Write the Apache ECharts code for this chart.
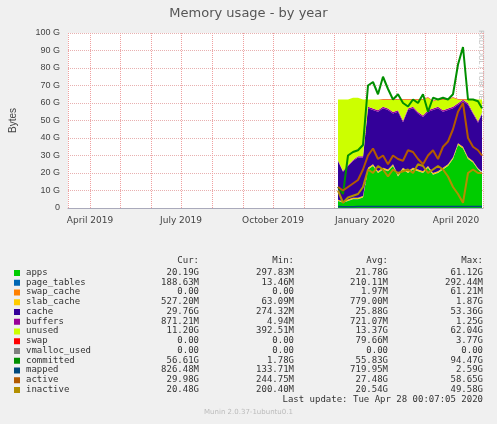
<!DOCTYPE html>
<html><head><meta charset="utf-8">
<script src="https://cdn.jsdelivr.net/npm/echarts@6/dist/echarts.min.js"></script>
<style>body{margin:0;background:#f0f0f0}#c{width:497px;height:424px}</style>
</head><body><div id="c"></div>
<script>
// sample dates (every 5 days) and values in G
var dates = ['2019-12-05','2019-12-10','2019-12-15','2019-12-20','2019-12-25','2019-12-30','2020-01-04','2020-01-09','2020-01-14','2020-01-19','2020-01-24','2020-01-29','2020-02-03','2020-02-08','2020-02-13','2020-02-18','2020-02-23','2020-02-28','2020-03-04','2020-03-09','2020-03-14','2020-03-19','2020-03-24','2020-03-29','2020-04-03','2020-04-08','2020-04-13','2020-04-18','2020-04-23','2020-04-27'];
var apps =      [4,3,4,5,5,6,22,24,20,22,21,24,18,22,20,22,21,20,23,19,20,22,24,28,36,34,28,26,22,20];
var pageTables= [0.2,0.2,0.2,0.2,0.2,0.2,0.2,0.2,0.2,0.2,0.2,0.2,0.2,0.2,0.2,0.2,0.2,0.2,0.2,0.2,0.2,0.2,0.2,0.2,0.2,0.2,0.2,0.2,0.2,0.2];
var slabCache = [0.5,0.5,0.6,0.6,0.7,0.7,0.8,0.8,0.8,0.8,0.8,0.8,0.8,0.8,0.8,0.8,0.8,0.8,0.8,0.8,0.8,0.8,0.8,0.8,0.8,0.8,0.8,0.6,0.5,0.5];
var cache =     [22,17,19,21,23,22,34,31,34,34,34,29,36,26,35,34,32,31,31,36,36,32,31,28,22,26,30,27,26,33];
var buffers =   [0.6,0.5,0.6,0.7,0.7,0.7,0.8,0.8,0.8,0.8,0.8,0.8,0.8,0.8,0.8,0.8,0.8,0.8,0.8,0.8,0.8,0.8,0.8,0.8,0.8,0.8,0.8,0.8,0.9,0.9];
var unused =    [34.7,40.8,37.6,35.5,33.4,32.4,4.2,5.2,6.2,4.2,5.2,7.2,6.2,12.2,5.2,4.2,7.2,9.2,7.2,4.2,4.2,6.2,5.2,5.2,2.2,0.2,2.2,7.4,12.4,7.4];
var swap =      [0,0,0,0,0,0,0,0,0,0.3,0.3,0.3,0.3,0.3,0.3,0.3,0.3,0.3,0.3,0.3,0.3,0.3,0.3,0.3,0.3,0.3,0.3,0,0,0];
var committed = [12,8,30,32,33,36,70,72,65,75,68,62,65,60,58,62,60,65,55,63,62,63,62,65,82,92,62,62,61,57];
var mapped =    [0.8,0.7,0.7,0.7,0.8,0.8,0.8,0.8,0.8,0.8,0.8,0.8,0.8,0.8,0.8,0.8,0.8,0.8,0.8,0.8,0.8,0.8,0.8,0.8,0.8,0.8,0.8,0.8,0.8,0.8];
var active =    [12,10,12,14,16,22,30,34,28,30,25,30,28,27,33,32,28,25,30,33,28,35,38,45,55,60,40,35,33,30];
var inactive =  [10,3,6,7,8,12,22,20,24,22,18,22,20,21,22,20,25,24,20,22,24,22,18,12,8,3,20,22,20,20];

var legendNames = ['apps','page_tables','swap_cache','slab_cache','cache','buffers','unused','swap','vmalloc_used','committed','mapped','active','inactive'];
var legendColors = ['#00cc00','#0066b3','#ff8000','#ffcc00','#330099','#990099','#ccff00','#ff0000','#808080','#008f00','#00487d','#b35a00','#b38f00'];
var curVals = ['20.19G','188.63M','0.00','527.20M','29.76G','871.21M','11.20G','0.00','0.00','56.61G','826.48M','29.98G','20.48G'];
var minVals = ['297.83M','13.46M','0.00','63.09M','274.32M','4.94M','392.51M','0.00','0.00','1.78G','133.71M','244.75M','200.40M'];
var avgVals = ['21.78G','210.11M','1.97M','779.00M','25.88G','721.07M','13.37G','79.66M','0.00','55.83G','719.95M','27.48G','20.54G'];
var maxVals = ['61.12G','292.44M','61.21M','1.87G','53.36G','1.25G','62.04G','3.77G','0.00','94.47G','2.59G','58.65G','49.58G'];

function pts(arr){ return dates.map(function(d,i){ return [d, arr[i]]; }); }
function area(name,arr,color){
  return {name:name,type:'line',stack:'m',data:pts(arr),symbol:'none',lineStyle:{width:0},
    areaStyle:{color:color,opacity:1},itemStyle:{color:color}};
}
function line(name,arr,color,w){
  return {name:name,type:'line',data:pts(arr),symbol:'none',lineStyle:{width:w,color:color},itemStyle:{color:color}};
}
var mono = 'DejaVu Sans Mono';
var graphic = [
  {type:'text',left:'center',top:7,style:{text:'Memory usage - by year',font:'13px DejaVu Sans',fill:'#555'}},
  {type:'text',x:484,y:30,rotation:-Math.PI/2,style:{text:'RRDTOOL / TOBI OETIKER',font:'7px DejaVu Sans',fill:'#bbb'}}
];
var colX = [199,294,388,483], heads = ['Cur:','Min:','Avg:','Max:'];
heads.forEach(function(h,j){ graphic.push({type:'text',x:colX[j],y:256,style:{text:h,font:'9px '+mono,fill:'#333',textAlign:'right'}}); });
legendNames.forEach(function(n,i){
  var y = 268 + i*9.75;
  graphic.push({type:'rect',shape:{x:14,y:y+2,width:6,height:6},style:{fill:legendColors[i]}});
  graphic.push({type:'text',x:26,y:y,style:{text:n,font:'9px '+mono,fill:'#333'}});
  [curVals,minVals,avgVals,maxVals].forEach(function(a,j){
    graphic.push({type:'text',x:colX[j],y:y,style:{text:a[i],font:'9px '+mono,fill:'#333',textAlign:'right'}});
  });
});
graphic.push({type:'text',x:483,y:395,style:{text:'Last update: Tue Apr 28 00:07:05 2020',font:'9px '+mono,fill:'#333',textAlign:'right'}});
graphic.push({type:'text',left:'center',top:409,style:{text:'Munin 2.0.37-1ubuntu0.1',font:'7px DejaVu Sans',fill:'#bbb'}});

var chart = echarts.init(document.getElementById('c'));
chart.setOption({
  backgroundColor:'#f0f0f0',
  animation:false,
  grid:{left:66,right:14,top:33,height:175,backgroundColor:'#fff',show:true,borderWidth:0},
  xAxis:{type:'time',min:'2019-03-10',max:'2020-04-28',splitNumber:14,
    axisLine:{lineStyle:{color:'#aab'}},axisTick:{show:false},
    splitLine:{show:true,lineStyle:{color:'#f0a0a0',type:'dotted'}},
    axisLabel:{fontSize:9,color:'#444',fontFamily:'DejaVu Sans',hideOverlap:false,
      formatter:function(v){var d=new Date(v);var m=['January','','','April','','','July','','','October','',''];
        return (d.getDate()===1&&d.getMonth()%3===0)?m[d.getMonth()]+' '+d.getFullYear():'';}}},
  yAxis:{type:'value',min:0,max:100,interval:10,name:'Bytes',nameLocation:'middle',nameGap:50,nameRotate:90,
    nameTextStyle:{fontSize:10,color:'#444'},
    axisLine:{show:false},axisTick:{show:false},
    splitLine:{lineStyle:{color:'#e8b0b0',type:'dotted'}},
    axisLabel:{fontSize:9,color:'#444',formatter:function(v){return v===0?'0':v+' G';}}},
  graphic:graphic,
  series:[
    area('apps',apps,'#00cc00'),
    area('page_tables',pageTables,'#0066b3'),
    area('slab_cache',slabCache,'#ffcc00'),
    area('cache',cache,'#330099'),
    area('buffers',buffers,'#990099'),
    area('unused',unused,'#ccff00'),
    area('swap',swap,'#ff0000'),
    line('committed',committed,'#008f00',2),
    line('mapped',mapped,'#00487d',1.5),
    line('active',active,'#b35a00',2),
    line('inactive',inactive,'#b38f00',2)
  ]
});
</script></body></html>
